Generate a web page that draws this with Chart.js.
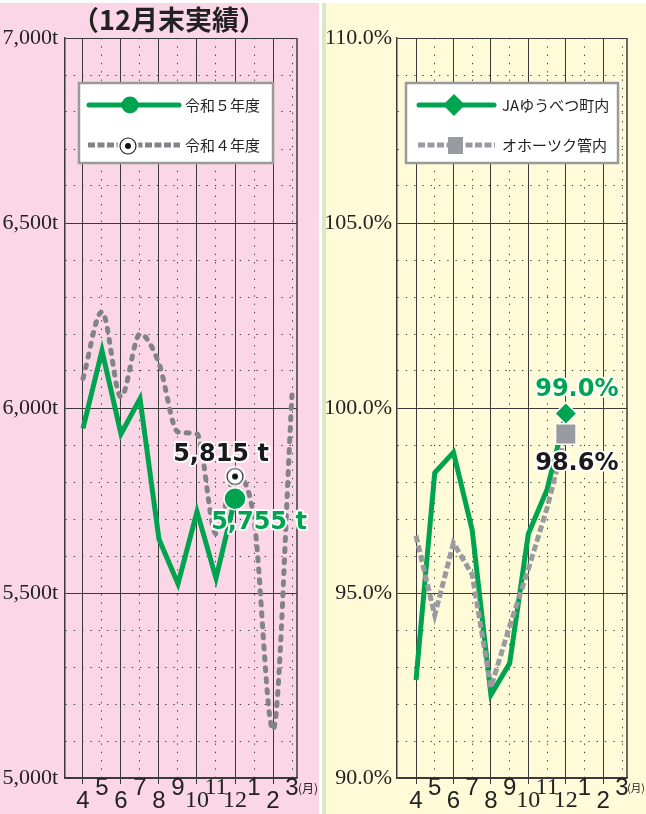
<!DOCTYPE html>
<html lang="ja">
<head>
<meta charset="utf-8">
<script src="https://cdn.jsdelivr.net/npm/chart.js@4.4.1/dist/chart.umd.min.js"></script>
<style>
  html, body { margin: 0; padding: 0; background: #fff; }
  body { width: 646px; height: 814px; position: relative; overflow: hidden; }
  #izq { position: absolute; left: 0; top: 3px; width: 319px; height: 811px; background: #fad6e6; }
  #der { position: absolute; left: 322px; top: 3px; width: 324px; height: 811px; background: #fffbd9;
         border-left: 4px solid #d9e8c6; box-sizing: border-box; }
  canvas { position: absolute; top: 0; }
  #g1 { left: 0; }
  #g2 { left: 325px; }
</style>
</head>
<body>
<div id="izq"></div>
<div id="der"></div>
<canvas id="g1" width="320" height="814"></canvas>
<canvas id="g2" width="321" height="814"></canvas>
<script>
// datos
const meses = ['4', '5', '6', '7', '8', '9', '10', '11', '12', '1', '2', '3'];
const r5 = [5945, 6155, 5930, 6025, 5645, 5525, 5720, 5540, 5755];
const r4 = [6080, 6260, 6030, 6200, 6120, 5935, 5930, 5660, 5815, 5700, 5130, 6035];
const ja = [92.65, 98.25, 98.8, 96.7, 92.25, 93.1, 96.6, 97.8, 99.85];
const okh = [96.55, 94.4, 96.35, 95.5, 92.45, 94.1, 95.65, 97.3, 99.3];
const tonTicks = [5000, 5500, 6000, 6500, 7000];
const pctTicks = [90, 95, 100, 105, 110];
const nombres1 = ['令和５年度', '令和４年度'];
const nombres2 = ['JAゆうべつ町内', 'オホーツク管内'];
const rotulos = ['5,815 t', '5,755 t', '99.0%', '98.6%'];
const titulo = '（12月末実績）';

const VERDE = '#00a34f';
const GRIS1 = '#828387';
const GRIS2 = '#9a9ba0';
const LINEA = '#3a3a3a';
const ULT = 8; // diciembre

const xy = arr => arr.map((v, i) => ({ x: i, y: v }));

// marcador de diana para 令和４年度
const diana = document.createElement('canvas');
diana.width = diana.height = 22;
(function () {
  const d = diana.getContext('2d');
  d.fillStyle = '#fff';
  d.beginPath(); d.arc(11, 11, 10.5, 0, Math.PI * 2); d.fill();
  d.strokeStyle = '#222'; d.lineWidth = 1.2;
  d.beginPath(); d.arc(11, 11, 8, 0, Math.PI * 2); d.stroke();
  d.fillStyle = '#111';
  d.beginPath(); d.arc(11, 11, 3, 0, Math.PI * 2); d.fill();
})();

function ejeX(min, max) {
  return {
    type: 'linear', min: min, max: max,
    afterBuildTicks: s => { s.ticks = meses.map((m, i) => ({ value: i })); },
    afterFit: s => { s.height = 36; },
    grid: {
      color: LINEA, lineWidth: 1, tickLength: 6,
      tickColor: c => (c.index % 2 === 0 ? LINEA : 'rgba(0,0,0,0)')
    },
    border: { color: LINEA, width: 1.5, dash: c => (c.tick && c.index % 2 === 1 ? [1.3, 7] : []) },
    ticks: {
      autoSkip: false, maxRotation: 0, minRotation: 0, padding: -2.5, color: '#222',
      callback: v => (v % 2 === 0 ? ['', meses[v]] : [meses[v]]),
      font: c => ({
        family: (meses[c.index] || '').length > 1 ? '"Liberation Sans Narrow"' : '"Liberation Sans"',
        size: 24, lineHeight: '13px'
      })
    }
  };
}

function ejeY(min, max, step, ancho, pad, marcas, fmt) {
  return {
    type: 'linear', min: min, max: max,
    afterFit: s => { s.width = ancho; },
    grid: { color: LINEA, lineWidth: 1, drawTicks: false },
    border: { color: LINEA, width: 1.5, dash: c => (c.tick && !marcas.includes(c.tick.value) ? [1.3, 7] : []) },
    ticks: {
      stepSize: step, padding: pad, color: '#222', autoSkip: false,
      font: { family: '"Liberation Sans Narrow"', size: 22 },
      callback: v => (marcas.includes(v) ? fmt(v) : '')
    }
  };
}

function rotulo(ctx, txt, x, y, color) {
  ctx.font = 'bold 24px "DejaVu Sans"';
  ctx.textAlign = 'center';
  ctx.textBaseline = 'middle';
  ctx.lineJoin = 'round';
  ctx.lineWidth = 4;
  ctx.strokeStyle = '#fff';
  ctx.strokeText(txt, x, y);
  ctx.fillStyle = color;
  ctx.fillText(txt, x, y);
}

function caja(ctx, x, y, w, h) {
  ctx.fillStyle = '#fff';
  ctx.fillRect(x, y, w, h);
  ctx.strokeStyle = '#9a9a9a';
  ctx.lineWidth = 2.5;
  ctx.strokeRect(x, y, w, h);
}

function texto(ctx, txt, x, y, font, align) {
  ctx.font = font;
  ctx.fillStyle = '#222';
  ctx.textAlign = align || 'left';
  ctx.textBaseline = 'middle';
  ctx.fillText(txt, x, y);
}

function marco(chart, dx, tam) {
  const a = chart.chartArea, ctx = chart.ctx;
  ctx.save();
  ctx.strokeStyle = LINEA;
  ctx.lineWidth = 1.5;
  ctx.beginPath();
  ctx.moveTo(a.right, a.top);
  ctx.lineTo(a.right, a.bottom);
  ctx.stroke();
  // (月)
  const px = chart.scales.x.getPixelForValue(11);
  texto(ctx, '(月)', px + dx, a.bottom + 10, tam + 'px "Noto Sans CJK JP"', 'center');
  ctx.restore();
}

// grafica izquierda
const deco1 = {
  id: 'deco1',
  afterDraw(chart) {
    const ctx = chart.ctx;
    marco(chart, 16, 12);
    ctx.save();
    texto(ctx, titulo, 169, 20, 'bold 27px "Noto Sans CJK JP"', 'center');

    caja(ctx, 79, 83, 194, 80);
    ctx.lineCap = 'round';
    ctx.strokeStyle = VERDE; ctx.lineWidth = 5;
    ctx.beginPath(); ctx.moveTo(89, 105); ctx.lineTo(179, 105); ctx.stroke();
    ctx.fillStyle = VERDE;
    ctx.beginPath(); ctx.arc(130, 105, 8.5, 0, Math.PI * 2); ctx.fill();
    ctx.lineCap = 'butt';
    ctx.strokeStyle = GRIS1; ctx.setLineDash([7, 2.5]);
    ctx.beginPath(); ctx.moveTo(88, 145); ctx.lineTo(180, 145); ctx.stroke();
    ctx.setLineDash([]);
    ctx.drawImage(diana, 128 - 11, 146 - 11);
    texto(ctx, nombres1[0], 185, 105, '15px "Noto Sans CJK JP"');
    texto(ctx, nombres1[1], 185, 145, '15px "Noto Sans CJK JP"');

    const p4 = chart.getDatasetMeta(1).data[ULT];
    const p5 = chart.getDatasetMeta(0).data[ULT];
    rotulo(ctx, rotulos[0], p4.x - 14, p4.y - 22, '#1a1a1a');
    rotulo(ctx, rotulos[1], p5.x + 24, p5.y + 24, VERDE);
    ctx.restore();
  }
};

new Chart(document.getElementById('g1'), {
  type: 'line',
  data: {
    datasets: [
      {
        label: nombres1[0], data: xy(r5),
        borderColor: VERDE, borderWidth: 5, tension: 0,
        pointRadius: c => (c.dataIndex === ULT ? 11 : 0),
        pointBackgroundColor: VERDE, pointBorderColor: '#fff', pointBorderWidth: 1.5
      },
      {
        label: nombres1[1], data: xy(r4),
        borderColor: GRIS1, borderWidth: 5, borderDash: [3, 8], borderCapStyle: 'round',
        cubicInterpolationMode: 'monotone',
        pointStyle: c => (c.dataIndex === ULT ? diana : 'circle'),
        pointRadius: c => (c.dataIndex === ULT ? 10 : 0)
      }
    ]
  },
  options: {
    responsive: false, animation: false, events: [],
    layout: { padding: { top: 38, right: 23, left: 0, bottom: 0 } },
    plugins: { legend: { display: false }, tooltip: { enabled: false } },
    scales: {
      x: ejeX(-0.947, 11.263),
      y: ejeY(5000, 7000, 100, 65, 7, tonTicks, v => v.toLocaleString('en-US') + 't')
    }
  },
  plugins: [deco1]
});

// grafica derecha
const deco2 = {
  id: 'deco2',
  afterDraw(chart) {
    const ctx = chart.ctx;
    marco(chart, 14, 10.5);
    ctx.save();
    caja(ctx, 81, 83, 212, 80);
    ctx.lineCap = 'round';
    ctx.strokeStyle = VERDE; ctx.lineWidth = 5;
    ctx.beginPath(); ctx.moveTo(94, 105); ctx.lineTo(169, 105); ctx.stroke();
    ctx.fillStyle = VERDE;
    ctx.beginPath();
    ctx.moveTo(129, 94); ctx.lineTo(140, 105); ctx.lineTo(129, 116); ctx.lineTo(118, 105);
    ctx.closePath(); ctx.fill();
    ctx.lineCap = 'butt';
    ctx.strokeStyle = GRIS2; ctx.setLineDash([7, 2.5]);
    ctx.beginPath(); ctx.moveTo(93, 145); ctx.lineTo(170, 145); ctx.stroke();
    ctx.setLineDash([]);
    ctx.fillStyle = GRIS2;
    ctx.fillRect(123, 137, 15, 17);
    texto(ctx, nombres2[0], 177, 105, '15px "Noto Sans CJK JP"');
    texto(ctx, nombres2[1], 177, 145, '15px "Noto Sans CJK JP"');

    const pv = chart.getDatasetMeta(1).data[ULT];
    const pg = chart.getDatasetMeta(0).data[ULT];
    rotulo(ctx, rotulos[2], pv.x + 11, pv.y - 24, VERDE);
    rotulo(ctx, rotulos[3], pg.x + 11, pg.y + 30, '#1a1a1a');
    ctx.restore();
  }
};

new Chart(document.getElementById('g2'), {
  type: 'line',
  data: {
    datasets: [
      {
        label: nombres2[1], data: xy(okh),
        borderColor: GRIS2, borderWidth: 5, borderDash: [7, 3], tension: 0,
        pointStyle: 'rect',
        pointRadius: c => (c.dataIndex === ULT ? 14.5 : 0),
        pointBackgroundColor: GRIS2, pointBorderColor: '#fff', pointBorderWidth: 1.5
      },
      {
        label: nombres2[0], data: xy(ja),
        borderColor: VERDE, borderWidth: 5, tension: 0,
        pointStyle: 'rectRot',
        pointRadius: c => (c.dataIndex === ULT ? 11 : 0),
        pointBackgroundColor: VERDE, pointBorderColor: '#fff', pointBorderWidth: 1.5
      }
    ]
  },
  options: {
    responsive: false, animation: false, events: [],
    layout: { padding: { top: 38, right: 19, left: 0, bottom: 0 } },
    plugins: { legend: { display: false }, tooltip: { enabled: false } },
    scales: {
      x: ejeX(-1.015, 11.267),
      y: ejeY(90, 110, 1, 72, 5, pctTicks, v => v.toFixed(1) + '%')
    }
  },
  plugins: [deco2]
});
</script>
</body>
</html>
